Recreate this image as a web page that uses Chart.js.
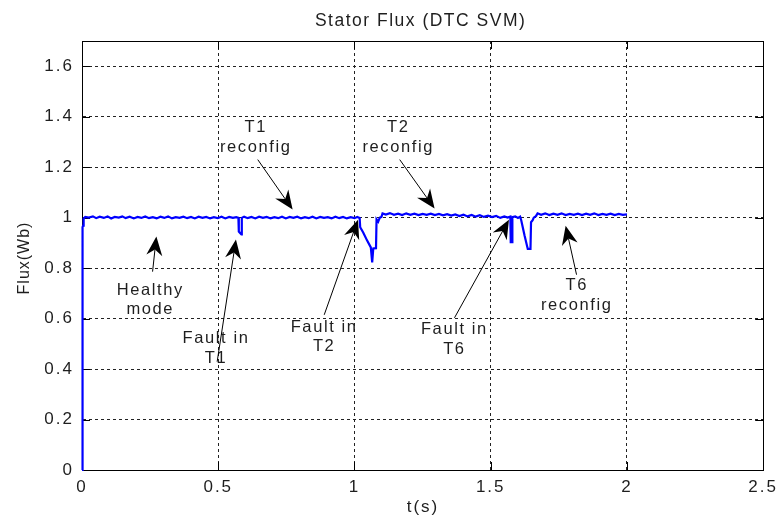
<!DOCTYPE html>
<html>
<head>
<meta charset="utf-8">
<script src="https://cdn.jsdelivr.net/npm/chart.js@4"></script>
<style>
  html, body { margin: 0; padding: 0; background: #fff; }
  canvas { display: block; }
</style>
</head>
<body>
<canvas id="flux" width="782" height="519"></canvas>
<script>
// Stator flux magnitude of a DTC-SVM drive: open-switch faults and reconfiguration
const timeS = [
  0, 0.002, 0.004, 0.006, 0.012, 0.025, 0.04, 0.052, 0.065, 0.08, 0.094, 0.107, 0.12, 0.135, 0.148,
  0.16, 0.175, 0.19, 0.204, 0.218, 0.232, 0.246, 0.26, 0.274, 0.288, 0.302, 0.316, 0.33, 0.344,
  0.358, 0.372, 0.386, 0.40, 0.414, 0.428, 0.442, 0.456, 0.47, 0.484, 0.498, 0.512, 0.526, 0.54,
  0.554, 0.566, 0.574, 0.5755, 0.58, 0.585, 0.5865, 0.595, 0.608, 0.622, 0.636, 0.65, 0.664, 0.678,
  0.692, 0.706, 0.72, 0.734, 0.748, 0.762, 0.776, 0.79, 0.804, 0.818, 0.832, 0.846, 0.86, 0.874,
  0.888, 0.902, 0.916, 0.93, 0.944, 0.958, 0.972, 0.986, 1.0, 1.01, 1.019, 1.021, 1.032, 1.046,
  1.06, 1.065, 1.069, 1.079, 1.081, 1.087, 1.093, 1.099, 1.103, 1.115, 1.13, 1.145, 1.16, 1.175,
  1.19, 1.205, 1.22, 1.235, 1.25, 1.265, 1.28, 1.295, 1.31, 1.325, 1.34, 1.355, 1.37, 1.385, 1.40,
  1.415, 1.43, 1.445, 1.46, 1.475, 1.49, 1.505, 1.52, 1.535, 1.55, 1.562, 1.572, 1.5735, 1.579,
  1.5795, 1.59, 1.60, 1.608, 1.612, 1.624, 1.636, 1.646, 1.648, 1.654, 1.658, 1.666, 1.672, 1.685,
  1.70, 1.715, 1.73, 1.745, 1.76, 1.775, 1.79, 1.805, 1.82, 1.835, 1.85, 1.865, 1.88, 1.895, 1.91,
  1.925, 1.94, 1.955, 1.97, 1.985, 2.0
];
const fluxWb = [
  0, 0.962, 0.968, 0.997, 1.003, 1.000, 1.005, 0.998, 1.004, 0.999, 1.005, 0.997, 1.003, 1.000, 1.005,
  0.998, 1.004, 0.997, 1.003, 0.999, 1.005, 0.998, 1.002, 0.997, 1.004, 0.999, 1.005, 0.997, 1.002,
  0.999, 1.004, 0.998, 1.003, 0.997, 1.004, 0.999, 1.003, 0.997, 1.002, 0.998, 1.004, 0.997, 1.003,
  0.999, 1.002, 0.999, 0.945, 0.939, 0.934, 0.999, 1.004, 0.998, 1.003, 0.997, 1.004, 0.999, 1.003,
  0.997, 1.002, 0.998, 1.004, 0.997, 1.003, 0.999, 1.004, 0.997, 1.002, 0.998, 1.004, 0.997, 1.003,
  0.999, 1.002, 0.997, 1.004, 0.998, 1.003, 0.997, 1.002, 0.998, 1.003, 0.999, 0.962, 0.941, 0.910,
  0.882, 0.823, 0.878, 0.879, 0.993, 0.984, 1.000, 1.003, 1.017, 1.012, 1.018, 1.011, 1.016, 1.010,
  1.017, 1.011, 1.016, 1.010, 1.015, 1.011, 1.016, 1.010, 1.015, 1.009, 1.014, 1.008, 1.013, 1.006, 1.012,
  1.005, 1.011, 1.004, 1.010, 1.003, 1.008, 1.002, 1.007, 0.999, 1.005, 1.000, 1.004, 0.903, 0.903,
  1.002, 1.005, 0.999, 1.004, 0.990, 0.930, 0.876, 0.876, 0.982, 0.990, 1.000, 1.006, 1.017, 1.011,
  1.017, 1.010, 1.016, 1.011, 1.017, 1.010, 1.015, 1.011, 1.016, 1.010, 1.016, 1.011, 1.017, 1.010, 1.015,
  1.011, 1.016, 1.010, 1.015, 1.011, 1.013
];

const xTicks = [0, 0.5, 1, 1.5, 2, 2.5];
const xTickLabels = ['0', '0.5', '1', '1.5', '2', '2.5'];
const yTicks = [0, 0.2, 0.4, 0.6, 0.8, 1, 1.2, 1.4, 1.6];
const yTickLabels = ['0', '0.2', '0.4', '0.6', '0.8', '1', '1.2', '1.4', '1.6'];

const chartTitle = 'Stator Flux (DTC SVM)';
const xTitle = 't(s)';
const yTitle = 'Flux(Wb)';

// Callouts: text lines (centred on `at`), arrow from tail to head, all in axis units
const callouts = [
  { lines: ['T1', 'reconfig'],      at: [0.634, 1.357], from: [0.645, 1.230], to: [0.773, 1.032] },
  { lines: ['T2', 'reconfig'],      at: [1.157, 1.357], from: [1.166, 1.230], to: [1.294, 1.036] },
  { lines: ['Healthy', 'mode'],     at: [0.247, 0.712], from: [0.259, 0.786], to: [0.273, 0.925] },
  { lines: ['Fault in', 'T1'],      at: [0.488, 0.520], from: [0.496, 0.429], to: [0.565, 0.913] },
  { lines: ['Fault in', 'T2'],      at: [0.885, 0.566], from: [0.889, 0.615], to: [1.013, 0.992] },
  { lines: ['Fault in', 'T6'],      at: [1.363, 0.556], from: [1.367, 0.603], to: [1.567, 0.992] },
  { lines: ['T6', 'reconfig'],      at: [1.812, 0.730], from: [1.815, 0.774], to: [1.775, 0.968] }
];

const FONT = "'Liberation Sans', Arial, sans-serif";
const INK = '#1e1e1e';

function drawArrow(ctx, x1, y1, x2, y2) {
  const a = Math.atan2(y2 - y1, x2 - x1);
  const ux = Math.cos(a), uy = Math.sin(a);
  const nx = -uy, ny = ux;
  const L = 19, W = 8, N = 13;
  ctx.beginPath();
  ctx.moveTo(x1, y1);
  ctx.lineTo(x2 - N * ux, y2 - N * uy);
  ctx.stroke();
  ctx.beginPath();
  ctx.moveTo(x2, y2);
  ctx.lineTo(x2 - L * ux + W * nx, y2 - L * uy + W * ny);
  ctx.lineTo(x2 - N * ux, y2 - N * uy);
  ctx.lineTo(x2 - L * ux - W * nx, y2 - L * uy - W * ny);
  ctx.closePath();
  ctx.fill();
}

// Axes box and inward tick marks, drawn under the trace
const framePlugin = {
  id: 'frame',
  beforeDraw(chart) {
    chart.ctx.letterSpacing = '2px';
  },
  beforeDatasetsDraw(chart) {
    const { ctx, chartArea: a, scales: { x, y } } = chart;
    ctx.save();
    ctx.letterSpacing = '0px';
    ctx.strokeStyle = '#000';
    ctx.lineWidth = 1;
    ctx.setLineDash([]);
    ctx.beginPath();
    ctx.rect(Math.round(a.left) + 0.5, Math.round(a.top) + 0.5,
             Math.round(a.right - a.left), Math.round(a.bottom - a.top));
    ctx.stroke();
    const T = 8;
    ctx.beginPath();
    xTicks.forEach(v => {
      const px = Math.round(x.getPixelForValue(v)) + 0.5;
      ctx.moveTo(px, a.bottom); ctx.lineTo(px, a.bottom - T);
      ctx.moveTo(px, a.top); ctx.lineTo(px, a.top + T);
    });
    yTicks.forEach(v => {
      const py = Math.round(y.getPixelForValue(v)) + 0.5;
      ctx.moveTo(a.left, py); ctx.lineTo(a.left + T, py);
      ctx.moveTo(a.right, py); ctx.lineTo(a.right - T, py);
    });
    ctx.stroke();
    ctx.restore();
  },
  afterDraw(chart) {
    const { ctx, chartArea: a, scales: { x, y } } = chart;
    ctx.save();
    ctx.fillStyle = INK;
    ctx.textAlign = 'center';
    ctx.textBaseline = 'middle';

    ctx.letterSpacing = '1.5px';
    ctx.font = `17.5px ${FONT}`;
    ctx.fillText(chartTitle, (a.left + a.right) / 2 - 2, 21);
    ctx.letterSpacing = '2px';
    ctx.font = `17px ${FONT}`;
    ctx.fillText(xTitle, 423, 507);

    ctx.save();
    ctx.letterSpacing = '1px';
    ctx.font = `16px ${FONT}`;
    ctx.translate(25, 258);
    ctx.rotate(-Math.PI / 2);
    ctx.fillText(yTitle, 0, 0);
    ctx.restore();

    ctx.font = `16.5px ${FONT}`;
    ctx.letterSpacing = '1.6px';
    ctx.strokeStyle = '#000';
    ctx.fillStyle = INK;
    ctx.lineWidth = 1;
    callouts.forEach(c => {
      const cx = x.getPixelForValue(c.at[0]);
      const cy = y.getPixelForValue(c.at[1]);
      c.lines.forEach((s, i) => ctx.fillText(s, cx + 1, cy + i * 19.5));
    });
    ctx.fillStyle = '#000';
    callouts.forEach(c => {
      drawArrow(ctx,
        x.getPixelForValue(c.from[0]), y.getPixelForValue(c.from[1]),
        x.getPixelForValue(c.to[0]), y.getPixelForValue(c.to[1]));
    });
    ctx.restore();
    ctx.letterSpacing = '0px';
  }
};

const points = timeS.map((t, i) => ({ x: t, y: fluxWb[i] }));

new Chart(document.getElementById('flux'), {
  type: 'line',
  data: {
    datasets: [{
      data: points,
      borderColor: '#0000ff',
      borderWidth: 2.2,
      pointRadius: 0,
      tension: 0,
      fill: false,
      clip: false
    }]
  },
  options: {
    responsive: false,
    animation: false,
    devicePixelRatio: 1,
    layout: { padding: { top: 41, right: 14, left: 0, bottom: 0 } },
    plugins: {
      legend: { display: false },
      tooltip: { enabled: false },
      title: { display: false }
    },
    scales: {
      x: {
        type: 'linear',
        min: 0,
        max: 2.5,
        afterBuildTicks: s => { s.ticks = xTicks.map(v => ({ value: v })); },
        afterFit: s => { s.height = 49; },
        ticks: {
          callback: (v, i) => xTickLabels[i],
          padding: 7,
          color: INK,
          font: { family: FONT, size: 17 },
          maxRotation: 0,
          autoSkip: false
        },
        grid: { color: '#222', lineWidth: 1, drawTicks: false },
        border: { display: true, color: '#000', width: 1, dash: [3, 3] }
      },
      y: {
        type: 'linear',
        min: 0,
        max: 1.7,
        afterBuildTicks: s => { s.ticks = yTicks.map(v => ({ value: v })); },
        afterFit: s => { s.width = 82; },
        ticks: {
          callback: (v, i) => yTickLabels[i],
          padding: 8,
          color: INK,
          font: { family: FONT, size: 17 },
          autoSkip: false
        },
        grid: { color: '#222', lineWidth: 1, drawTicks: false },
        border: { display: true, color: '#000', width: 1, dash: [3, 3] }
      }
    }
  },
  plugins: [framePlugin]
});
</script>
</body>
</html>
